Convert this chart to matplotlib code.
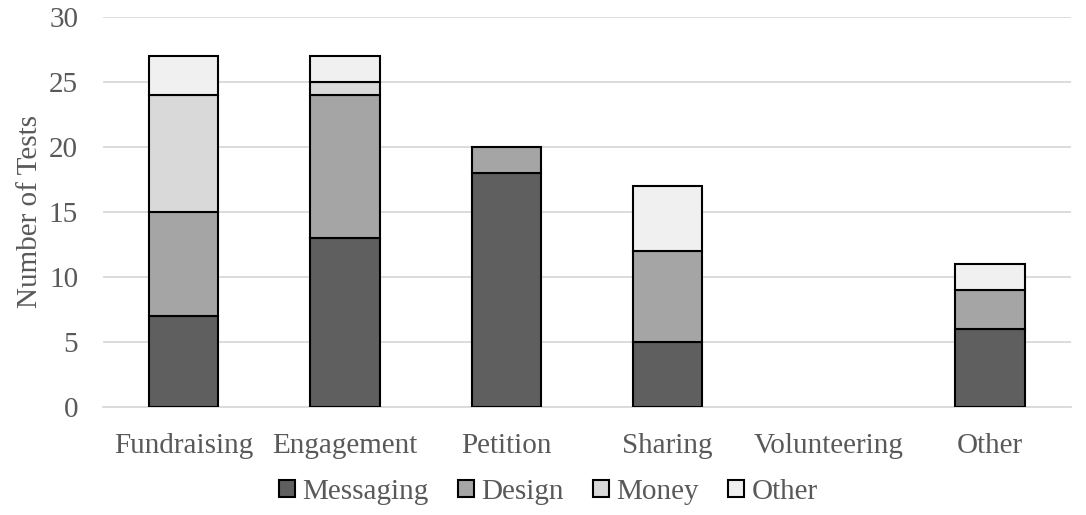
import numpy as np
import matplotlib
matplotlib.use('Agg')
import matplotlib.pyplot as plt

categories = ['Fundraising', 'Engagement', 'Petition', 'Sharing', 'Volunteering', 'Other']
messaging = [7, 13, 18, 5, 0, 6]
design = [8, 11, 2, 7, 0, 3]
money = [9, 1, 0, 0, 0, 0]
other = [3, 2, 0, 5, 0, 2]

series_names = ['Messaging', 'Design', 'Money', 'Other']
colors = ['#5f5f5f', '#a5a5a5', '#d9d9d9', '#f0f0f0']

plt.rcParams['font.family'] = ['Liberation Serif', 'DejaVu Serif']
text_color = '#595959'

fig = plt.figure(figsize=(10.86, 5.15), dpi=100)
ax = fig.add_axes([0.095, 0.21, 0.891, 0.757])

x = np.arange(len(categories))
bottom = np.zeros(len(categories))
handles = []
for name, vals, c in zip(series_names, [messaging, design, money, other], colors):
    vals = np.array(vals, dtype=float)
    mask = vals > 0
    ax.bar(x[mask], vals[mask], bottom=bottom[mask], width=0.43, color=c,
           edgecolor='black', linewidth=1.5, zorder=3)
    handles.append(plt.Rectangle((0, 0), 1, 1, facecolor=c, edgecolor='black', linewidth=1.5))
    bottom += vals

ax.set_xlim(-0.5, len(categories) - 0.5)
ax.set_ylim(0, 30)
ax.set_yticks(range(0, 31, 5))
ax.set_xticks(x)
ax.set_xticklabels(categories)
ax.yaxis.grid(True, color='#d9d9d9', linewidth=1.3, zorder=0)
ax.set_axisbelow(True)
for s in ['top', 'right', 'left']:
    ax.spines[s].set_visible(False)
ax.spines['bottom'].set_color('#d9d9d9')
ax.spines['bottom'].set_linewidth(1.3)
ax.tick_params(axis='both', length=0, labelsize=21, labelcolor=text_color)
ax.tick_params(axis='x', pad=19)
ax.tick_params(axis='y', pad=18)
ax.set_ylabel('Number of Tests', fontsize=21, color=text_color, labelpad=4)

leg = fig.legend(handles, series_names, loc='center', bbox_to_anchor=(0.505, 0.045), ncol=4,
                 frameon=False, fontsize=21, handlelength=0.55, handleheight=0.55,
                 handletextpad=0.25, columnspacing=1.0)
for t in leg.get_texts():
    t.set_color(text_color)

fig.savefig('out.png', dpi=100)
